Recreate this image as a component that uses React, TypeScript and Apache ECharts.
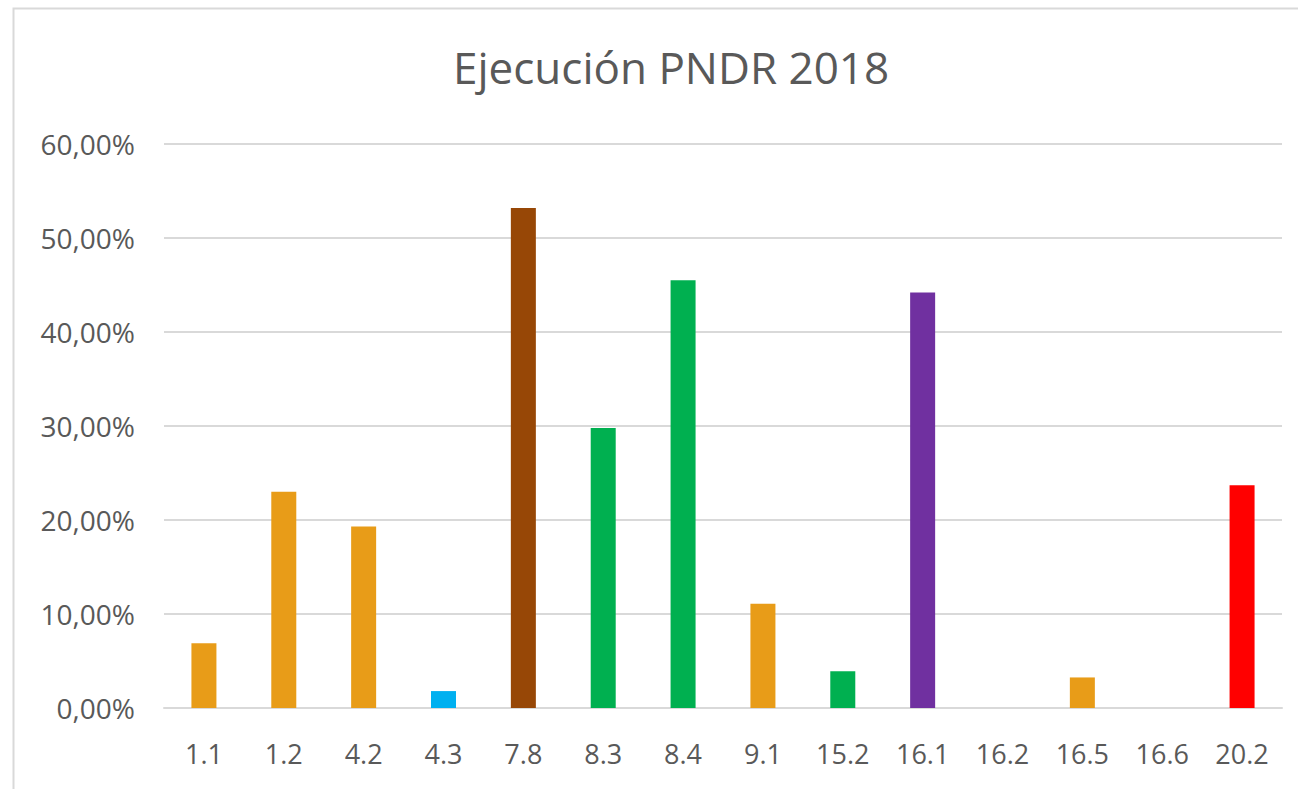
import React, { useEffect, useRef } from "react";
import * as echarts from "echarts";

const categories = ["1.1", "1.2", "4.2", "4.3", "7.8", "8.3", "8.4", "9.1", "15.2", "16.1", "16.2", "16.5", "16.6", "20.2"];
const values = [6.9, 23.0, 19.3, 1.8, 53.2, 29.8, 45.5, 11.1, 3.9, 44.2, 0, 3.25, 0, 23.7];
const barColors = ["#E89C18", "#E89C18", "#E89C18", "#00B0F0", "#974706", "#00B050", "#00B050", "#E89C18", "#00B050", "#7030A0", "#E89C18", "#E89C18", "#E89C18", "#FF0000"];
const yTicks = [0, 10, 20, 30, 40, 50, 60];

export default function App() {
  const ref = useRef<HTMLDivElement>(null);
  useEffect(() => {
    const chart = echarts.init(ref.current!, undefined, { renderer: "svg" });
    const font = "'Open Sans', 'Noto Sans', sans-serif";
    chart.setOption({
      animation: false,
      backgroundColor: "#ffffff",
      title: {
        text: "Ejecución PNDR 2018",
        left: 448,
        top: 40,
        textStyle: { fontFamily: font, fontSize: 44, fontWeight: "normal", color: "#595959" },
      },
      graphic: [
        {
          type: "rect",
          shape: { x: 13.5, y: 8.5, width: 1320, height: 820 },
          style: { fill: "none", stroke: "#d9d9d9", lineWidth: 2 },
          silent: true,
        },
      ],
      grid: { left: 164, right: 16, top: 144, bottom: 81 },
      xAxis: {
        type: "category",
        data: categories,
        axisLine: { show: true, lineStyle: { color: "#d9d9d9", width: 2 } },
        axisTick: { show: false },
        axisLabel: { fontFamily: font, fontSize: 27, color: "#595959", margin: 32, interval: 0 },
      },
      yAxis: {
        type: "value",
        min: yTicks[0],
        max: yTicks[yTicks.length - 1],
        interval: 10,
        axisLine: { show: false },
        axisTick: { show: false },
        splitLine: { lineStyle: { color: "#d9d9d9", width: 2 } },
        axisLabel: {
          fontFamily: font,
          fontSize: 28,
          color: "#595959",
          margin: 29,
          formatter: (v: number) => v.toFixed(2).replace(".", ",") + "%",
        },
      },
      series: [
        {
          type: "bar",
          barWidth: 25,
          data: values.map((v, i) => ({ value: v, itemStyle: { color: barColors[i] } })),
        },
      ],
    });
    return () => chart.dispose();
  }, []);
  return <div ref={ref} style={{ position: "absolute", left: 0, top: 0, width: 1298, height: 789 }} />;
}
